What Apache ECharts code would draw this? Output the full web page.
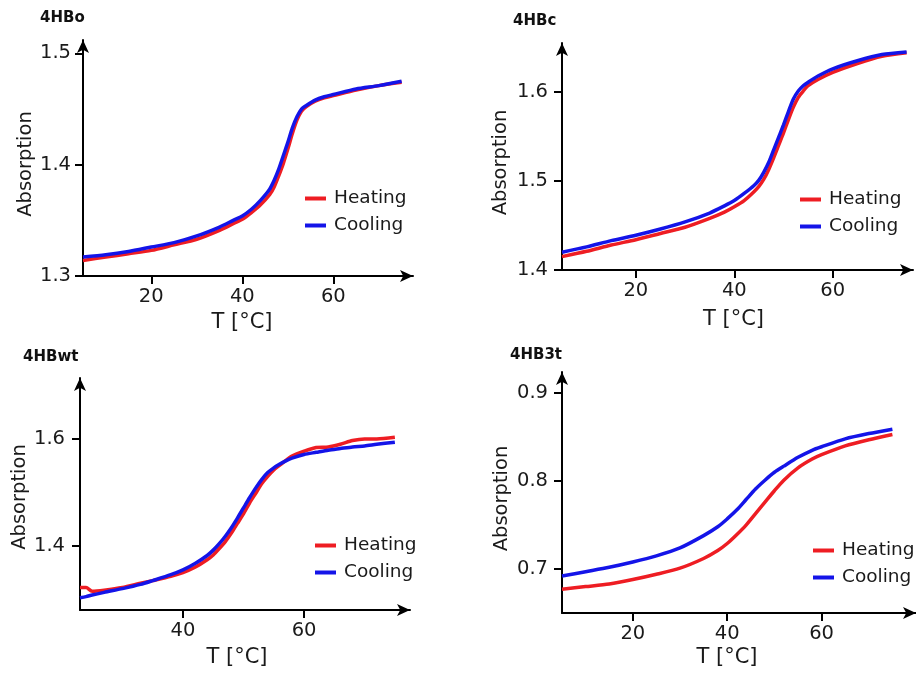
<!DOCTYPE html>
<html>
<head>
<meta charset="utf-8">
<script src="https://cdn.jsdelivr.net/npm/echarts@6/dist/echarts.min.js"></script>
<style>
  html, body { margin: 0; padding: 0; background: #fff; }
  #chart { width: 916px; height: 675px; }
</style>
</head>
<body>
<div id="chart"></div>
<script>
// 4HBo
const tempsO = [5, 10, 15, 20, 25, 30, 35, 38, 40, 42, 44, 46, 47, 48, 49, 50, 51, 52, 53, 54, 56, 58, 60, 65, 70, 75];
const heatO = [1.314, 1.317, 1.320, 1.323, 1.328, 1.333, 1.341, 1.347, 1.351, 1.357, 1.364, 1.373, 1.380, 1.390, 1.401, 1.414, 1.428, 1.440, 1.448, 1.452, 1.457, 1.460, 1.462, 1.467, 1.471, 1.474];
const coolO = [1.317, 1.319, 1.322, 1.326, 1.330, 1.336, 1.344, 1.350, 1.354, 1.360, 1.368, 1.378, 1.386, 1.396, 1.408, 1.420, 1.433, 1.443, 1.450, 1.453, 1.458, 1.461, 1.463, 1.468, 1.471, 1.475];

// 4HBc
const tempsC = [5, 10, 15, 20, 25, 30, 35, 38, 40, 42, 44, 45, 46, 47, 48, 49, 50, 51, 52, 53, 54, 55, 57, 60, 65, 70, 75];
const heatC = [1.415, 1.421, 1.428, 1.434, 1.441, 1.448, 1.458, 1.465, 1.471, 1.478, 1.488, 1.494, 1.502, 1.513, 1.526, 1.540, 1.554, 1.569, 1.583, 1.594, 1.601, 1.607, 1.614, 1.622, 1.632, 1.640, 1.644];
const coolC = [1.420, 1.426, 1.433, 1.439, 1.446, 1.454, 1.464, 1.472, 1.478, 1.486, 1.495, 1.501, 1.510, 1.521, 1.535, 1.549, 1.563, 1.578, 1.592, 1.601, 1.607, 1.611, 1.618, 1.626, 1.635, 1.642, 1.645];

// 4HBwt
const tempsWt = [23, 24, 25, 27, 30, 33, 35, 38, 40, 42, 44, 45, 46, 47, 48, 49, 50, 51, 52, 53, 54, 55, 56, 57, 58, 60, 62, 64, 66, 68, 70, 72, 75];
const heatWt = [1.322, 1.322, 1.315, 1.317, 1.322, 1.330, 1.335, 1.343, 1.350, 1.360, 1.374, 1.383, 1.395, 1.408, 1.424, 1.442, 1.460, 1.480, 1.498, 1.516, 1.530, 1.542, 1.551, 1.560, 1.568, 1.577, 1.584, 1.585, 1.590, 1.597, 1.600, 1.600, 1.603];
const coolWt = [1.303, 1.305, 1.308, 1.313, 1.320, 1.328, 1.335, 1.346, 1.355, 1.367, 1.382, 1.392, 1.404, 1.418, 1.434, 1.452, 1.471, 1.490, 1.508, 1.524, 1.537, 1.546, 1.553, 1.559, 1.564, 1.571, 1.575, 1.579, 1.582, 1.585, 1.587, 1.590, 1.594];

// 4HB3t
const temps3t = [5, 10, 15, 20, 25, 30, 35, 38, 40, 42, 44, 46, 48, 50, 52, 55, 58, 60, 65, 70, 75];
const heat3t = [0.677, 0.680, 0.683, 0.688, 0.694, 0.701, 0.712, 0.721, 0.729, 0.739, 0.750, 0.763, 0.776, 0.789, 0.801, 0.815, 0.825, 0.830, 0.840, 0.847, 0.853];
const cool3t = [0.692, 0.697, 0.702, 0.708, 0.715, 0.724, 0.738, 0.748, 0.757, 0.767, 0.779, 0.791, 0.801, 0.810, 0.817, 0.827, 0.835, 0.839, 0.848, 0.854, 0.859];

const titles = ['4HBo', '4HBc', '4HBwt', '4HB3t'];
const xTicks = [[20, 40, 60], [20, 40, 60], [40, 60], [20, 40, 60]];
const yTicks = [[1.3, 1.4, 1.5], [1.4, 1.5, 1.6], [1.4, 1.6], [0.7, 0.8, 0.9]];

const RED = '#ee1d23';
const BLUE = '#1414e8';
const FONT = 'DejaVu Sans';
const TEXT = '#1a1a1a';

const pairs = (xs, ys) => xs.map((x, i) => [x, ys[i]]);

// grid boxes and axis ranges per panel
const layout = [
  { grid: { left: 83, top: 40, width: 330, height: 236 }, x: [5, 77.5], y: [1.3, 1.512], title: [40, 11], legend: [305, 189], yGap: 47, xGap: 36, xPad: 12, yPad: 12, yMargin: 12 },
  { grid: { left: 562, top: 43, width: 351, height: 227 }, x: [5, 76.3], y: [1.4, 1.655], title: [513, 14], legend: [800, 190], yGap: 51, xGap: 39, xPad: 8, yPad: 12, yMargin: 14 },
  { grid: { left: 80, top: 378, width: 330, height: 232 }, x: [23, 77.5], y: [1.28, 1.714], title: [23, 350], legend: [315, 536], yGap: 49, xGap: 37, xPad: 16, yPad: 6, yMargin: 15 },
  { grid: { left: 562, top: 372, width: 362, height: 241 }, x: [5, 80], y: [0.65, 0.924], title: [510, 348], legend: [813, 541], yGap: 50, xGap: 34, xPad: 24, yPad: 12, yMargin: 14 }
];

const heating = [heatO, heatC, heatWt, heat3t];
const cooling = [coolO, coolC, coolWt, cool3t];
const temps = [tempsO, tempsC, tempsWt, temps3t];

const axisLine = {
  show: true,
  onZero: false,
  symbol: ['none', 'arrow'],
  symbolSize: [9, 13],
  lineStyle: { color: '#000', width: 2 }
};

const option = {
  animation: false,
  backgroundColor: '#fff',
  title: layout.map((p, i) => ({
    text: titles[i],
    left: p.title[0],
    top: p.title[1],
    padding: 0,
    textStyle: { fontFamily: FONT, fontSize: 15, fontWeight: 'bold', color: '#111' }
  })),
  legend: layout.map((p) => ({
    data: ['Heating', 'Cooling'],
    orient: 'vertical',
    left: p.legend[0],
    top: p.legend[1],
    padding: 0,
    icon: 'rect',
    itemWidth: 21,
    itemHeight: 4,
    itemGap: 8,
    selectedMode: false,
    textStyle: { fontFamily: FONT, fontSize: 18.5, color: TEXT, padding: [0, 0, 0, 3] }
  })),
  grid: layout.map((p) => p.grid),
  xAxis: layout.map((p, i) => ({
    type: 'value',
    gridIndex: i,
    min: p.x[0],
    max: p.x[1],
    name: 'T [°C]',
    nameLocation: 'middle',
    nameGap: p.xGap,
    nameTextStyle: { fontFamily: FONT, fontSize: 21, color: TEXT, padding: [0, p.xPad, 0, 0] },
    axisLine: axisLine,
    axisTick: { show: true, length: 8, lineStyle: { color: '#000', width: 2 }, customValues: xTicks[i] },
    axisLabel: { fontFamily: FONT, fontSize: 19.5, color: TEXT, margin: 11, customValues: xTicks[i] },
    splitLine: { show: false }
  })),
  yAxis: layout.map((p, i) => ({
    type: 'value',
    gridIndex: i,
    min: p.y[0],
    max: p.y[1],
    name: 'Absorption',
    nameLocation: 'middle',
    nameGap: p.yGap,
    nameTextStyle: { fontFamily: FONT, fontSize: 19.5, color: TEXT, padding: [0, p.yPad, 0, 0] },
    axisLine: axisLine,
    axisTick: { show: true, length: 8, lineStyle: { color: '#000', width: 2 }, customValues: yTicks[i] },
    axisLabel: { fontFamily: FONT, fontSize: 19.5, color: TEXT, margin: p.yMargin, customValues: yTicks[i] },
    splitLine: { show: false }
  })),
  series: []
};

for (let i = 0; i < 4; i++) {
  option.series.push({
    name: 'Heating',
    type: 'line',
    xAxisIndex: i,
    yAxisIndex: i,
    data: pairs(temps[i], heating[i]),
    symbol: 'none',
    smooth: 0.25,
    color: RED,
    lineStyle: { color: RED, width: 3.5 }
  });
  option.series.push({
    name: 'Cooling',
    type: 'line',
    xAxisIndex: i,
    yAxisIndex: i,
    data: pairs(temps[i], cooling[i]),
    symbol: 'none',
    smooth: 0.25,
    color: BLUE,
    lineStyle: { color: BLUE, width: 3.5 }
  });
}

const myChart = echarts.init(document.getElementById('chart'));
myChart.setOption(option);
</script>
</body>
</html>
